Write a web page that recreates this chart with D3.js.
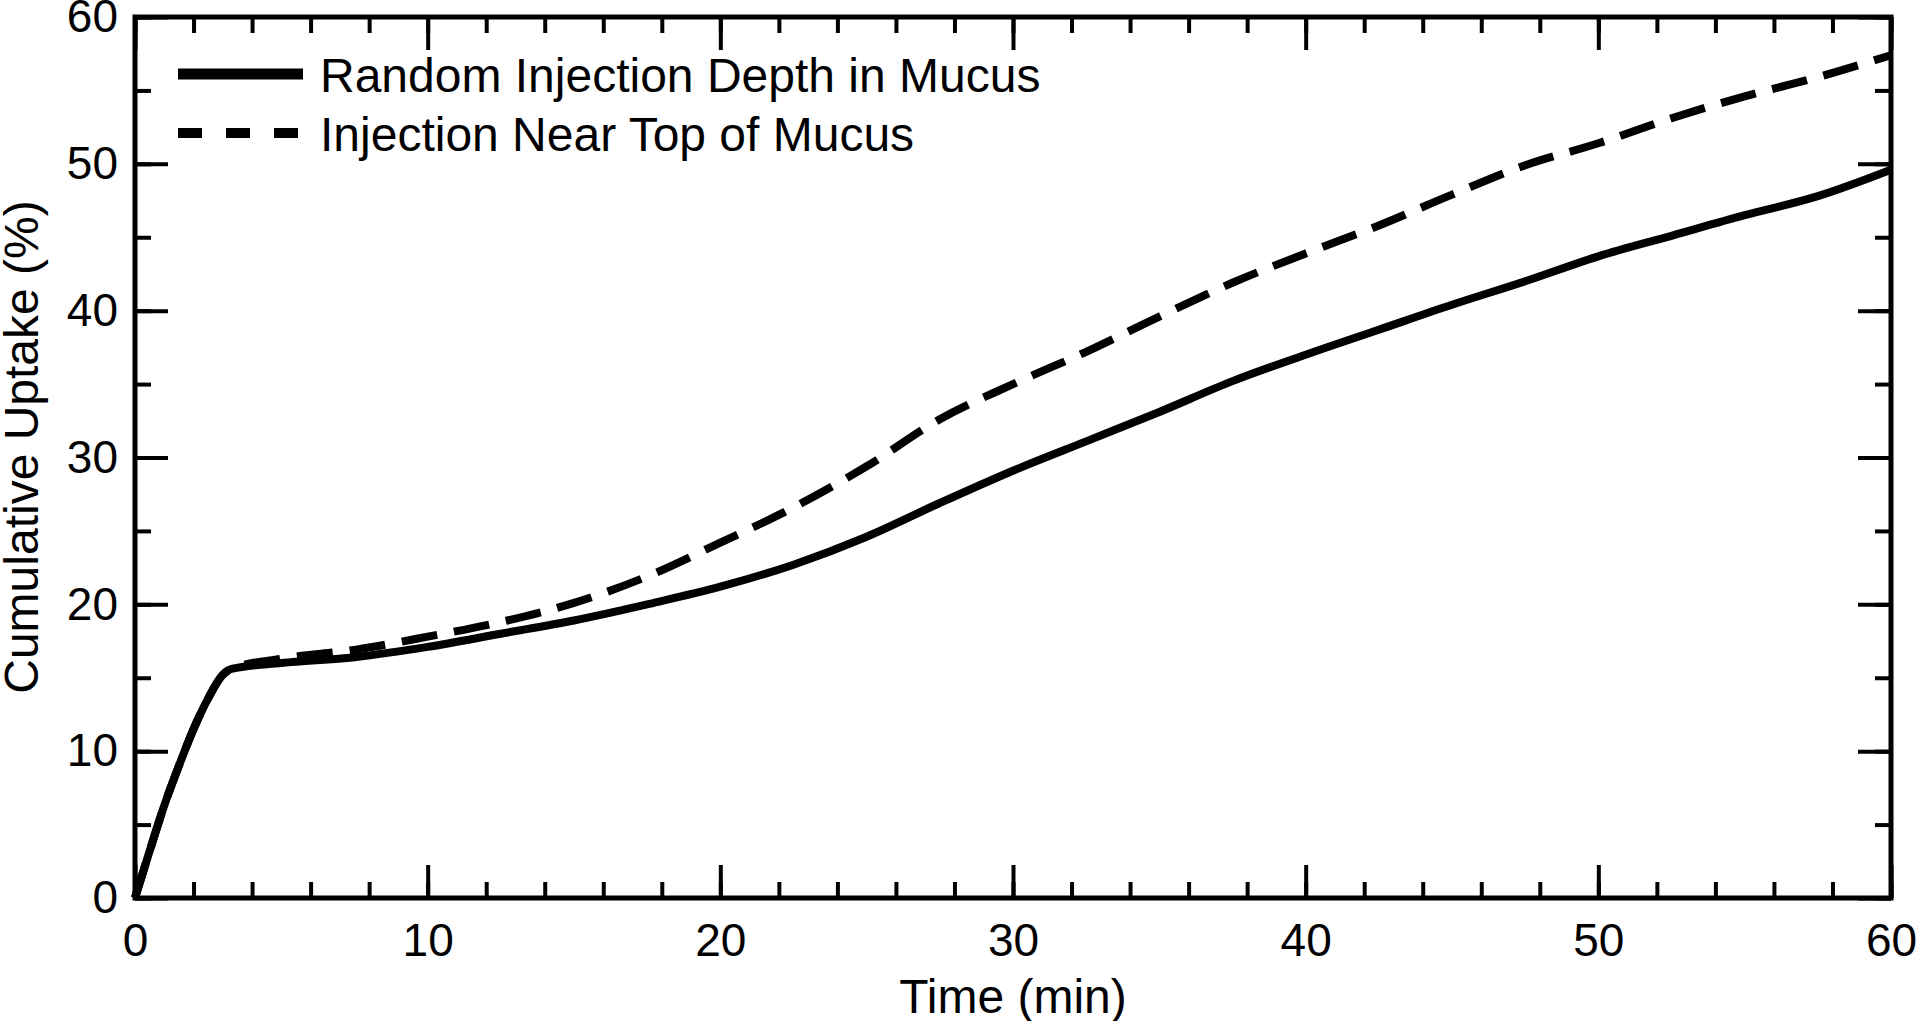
<!DOCTYPE html>
<html>
<head>
<meta charset="utf-8">
<script src="https://cdn.jsdelivr.net/npm/d3@7"></script>
<style>
  body { margin: 0; background: #fff; }
  svg { display: block; font-family: "Liberation Sans", Arial, sans-serif; }
</style>
</head>
<body>
<svg id="chart"></svg>
<script>
// time (min) and cumulative uptake (%)
const timeRandom = [0, 0.5, 1, 1.5, 2, 2.5, 3, 3.3, 5, 7.5, 10, 12.5, 15, 17.5, 20, 22.5, 25, 27.5, 30, 32.5, 35, 37.5, 40, 42.5, 45, 47.5, 50, 52.5, 55, 57.5, 60]
const uptakeRandom = [0, 3.2, 6.3, 9.0, 11.5, 13.6, 15.2, 15.6, 16.0, 16.4, 17.1, 18.0, 18.9, 20.0, 21.2, 22.7, 24.6, 26.9, 29.1, 31.1, 33.1, 35.2, 37.0, 38.7, 40.4, 42.0, 43.7, 45.1, 46.5, 47.8, 49.6]

const timeTop = [0, 0.5, 1, 1.5, 2, 2.5, 3, 3.3, 5, 7.5, 10, 12.5, 15, 17.5, 20, 22.5, 25, 27.5, 30, 32.5, 35, 37.5, 40, 42.5, 45, 47.5, 50, 52.5, 55, 57.5, 60]
const uptakeTop = [0, 3.2, 6.3, 9.0, 11.5, 13.6, 15.2, 15.6, 16.3, 16.9, 17.8, 18.8, 20.1, 21.9, 24.2, 26.6, 29.4, 32.6, 35.0, 37.2, 39.6, 41.9, 43.9, 45.8, 47.9, 49.9, 51.4, 53.1, 54.6, 55.9, 57.4]

const seriesNames = ['Random Injection Depth in Mucus', 'Injection Near Top of Mucus']

const xMajorTicks = [0, 10, 20, 30, 40, 50, 60]
const xMinorTicks = d3.range(0, 61, 2)
const yMajorTicks = [0, 10, 20, 30, 40, 50, 60]
const yMinorTicks = d3.range(0, 61, 5)

const width = 1920, height = 1021
const margin = {top: 17, right: 29, bottom: 123, left: 135}

const svg = d3.select('#chart')
    .attr('width', width)
    .attr('height', height)

const x = d3.scaleLinear().domain([0, 60]).range([margin.left, width - margin.right])
const y = d3.scaleLinear().domain([0, 60]).range([height - margin.bottom, margin.top])

// inward ticks on all four sides
function addAxis(axis, tx, ty, labels) {
    const g = svg.append('g')
        .attr('transform', `translate(${tx},${ty})`)
        .call(axis)
    g.select('.domain').remove()
    g.selectAll('.tick line').attr('stroke', '#000').attr('stroke-width', 4)
    g.selectAll('.tick text').attr('fill', '#000').attr('font-size', 46)
    if (!labels) g.selectAll('.tick text').remove()
    return g
}

const x0 = y(0), yTop = y(60), xl = x(0), xr = x(60)

addAxis(d3.axisBottom(x).tickValues(xMinorTicks).tickSize(-16).tickFormat(''), 0, x0, false)
addAxis(d3.axisBottom(x).tickValues(xMajorTicks).tickSize(-33).tickPadding(25).tickFormat(d3.format('d')), 0, x0, true)
addAxis(d3.axisTop(x).tickValues(xMinorTicks).tickSize(-16).tickFormat(''), 0, yTop, false)
addAxis(d3.axisTop(x).tickValues(xMajorTicks).tickSize(-33).tickFormat(''), 0, yTop, false)

addAxis(d3.axisLeft(y).tickValues(yMinorTicks).tickSize(-16).tickFormat(''), xl, 0, false)
addAxis(d3.axisLeft(y).tickValues(yMajorTicks).tickSize(-33).tickPadding(17).tickFormat(d3.format('d')), xl, 0, true)
addAxis(d3.axisRight(y).tickValues(yMinorTicks).tickSize(-16).tickFormat(''), xr, 0, false)
addAxis(d3.axisRight(y).tickValues(yMajorTicks).tickSize(-33).tickFormat(''), xr, 0, false)

// curves
const line = d3.line()
    .x(d => x(d[0]))
    .y(d => y(d[1]))
    .curve(d3.curveMonotoneX)

svg.append('path')
    .datum(d3.zip(timeTop, uptakeTop))
    .attr('d', line)
    .attr('fill', 'none')
    .attr('stroke', '#000')
    .attr('stroke-width', 8)
    .attr('stroke-dasharray', '36,17')

svg.append('path')
    .datum(d3.zip(timeRandom, uptakeRandom))
    .attr('d', line)
    .attr('fill', 'none')
    .attr('stroke', '#000')
    .attr('stroke-width', 8)

// frame
svg.append('rect')
    .attr('x', xl)
    .attr('y', yTop)
    .attr('width', xr - xl)
    .attr('height', x0 - yTop)
    .attr('fill', 'none')
    .attr('stroke', '#000')
    .attr('stroke-width', 5)

// legend
const legend = svg.append('g')
const legendRows = [
    {name: seriesNames[0], dash: null, w: 11, y: 74},
    {name: seriesNames[1], dash: '24,24', w: 10, y: 133}
]
legendRows.forEach(r => {
    legend.append('line')
        .attr('x1', 178).attr('x2', 303)
        .attr('y1', r.y).attr('y2', r.y)
        .attr('stroke', '#000')
        .attr('stroke-width', r.w)
        .attr('stroke-dasharray', r.dash)
    legend.append('text')
        .attr('x', 320)
        .attr('y', r.y + 18)
        .attr('font-size', 48)
        .text(r.name)
})

// axis titles
svg.append('text')
    .attr('x', (xl + xr) / 2)
    .attr('y', 1013)
    .attr('text-anchor', 'middle')
    .attr('font-size', 48)
    .text('Time (min)')

svg.append('text')
    .attr('transform', 'translate(38,447) rotate(-90)')
    .attr('text-anchor', 'middle')
    .attr('font-size', 48)
    .text('Cumulative Uptake (%)')
</script>
</body>
</html>
